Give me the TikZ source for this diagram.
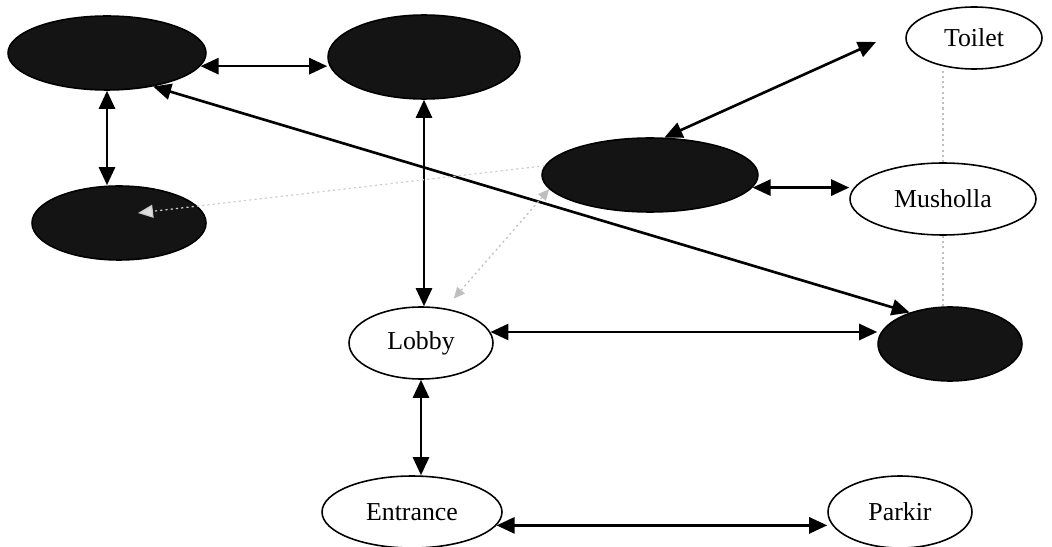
\documentclass[tikz,border=0pt]{standalone}
\usepackage{fontspec}
\setmainfont{Liberation Serif}
\usetikzlibrary{arrows.meta,shapes.geometric}
\begin{document}
\begin{tikzpicture}[x=0.02cm,y=-0.02cm,
  place/.style={ellipse, draw=black, line width=0.9pt, inner sep=0pt,
    font=\fontsize{14.7pt}{17pt}\selectfont},
  darkplace/.style={place, fill=black!92},
  lightplace/.style={place, fill=white},
  link/.style={line width=1.5pt, {Triangle[length=0.36cm,width=0.32cm]}-{Triangle[length=0.36cm,width=0.32cm]}},
  faint/.style={gray!50, line width=0.7pt, dash pattern=on 1.2pt off 1.8pt},
]
\useasboundingbox (0,0) rectangle (1052,547);

% rooms
\node[darkplace, minimum width=3.96cm, minimum height=1.48cm] (A) at (107,53) {};
\node[darkplace, minimum width=3.84cm, minimum height=1.68cm] (B) at (424,57) {};
\node[darkplace, minimum width=3.48cm, minimum height=1.48cm] (C) at (119,223) {};
\node[darkplace, minimum width=4.32cm, minimum height=1.48cm] (D) at (650,175) {};
\node[darkplace, minimum width=2.88cm, minimum height=1.48cm] (E) at (950,344) {};
\node[lightplace, minimum width=2.72cm, minimum height=1.24cm] (toilet) at (974,38) {Toilet};
\node[lightplace, minimum width=3.72cm, minimum height=1.44cm] (musholla) at (943,199) {Musholla};
\node[lightplace, minimum width=2.88cm, minimum height=1.44cm] (lobby) at (421,343) {Lobby};
\node[lightplace, minimum width=3.60cm, minimum height=1.44cm] (entrance) at (412,512) {Entrance};
\node[lightplace, minimum width=2.88cm, minimum height=1.44cm] (parkir) at (900,512) {Parkir};

% free ends
\coordinate (toiletend) at (876,42);
\coordinate (ctip) at (138,213);

% main connections
\draw[link] (A.-8) -- (A.-8 -| B.west);
\draw[link] (A.south) -- (A.south |- C.north);
\draw[link] (A.-36) -- (E.142);
\draw[link] (B.south) -- (B.south |- lobby.north);
\draw[link] (D.69) -- (toiletend);
\draw[link] (D.-7) -- (D.-7 -| musholla.west);
\draw[link] (lobby.9) -- (lobby.9 -| E.west);
\draw[link] (lobby.south) -- (lobby.south |- entrance.north);
\draw[link] (entrance.-9) -- (entrance.-9 -| parkir.west);

% faint connections
\draw[faint] (musholla.north) -- (musholla.north |- toilet.south);
\draw[faint] (musholla.south) -- (musholla.south |- E.north);
\draw[faint, gray!40, -{Triangle[length=0.3cm,width=0.26cm,fill=gray!25]}] (D.175) -- (ctip);
\draw[faint, {Triangle[length=0.22cm,width=0.2cm]}-{Triangle[length=0.22cm,width=0.2cm]}, shorten >=0.26cm] (D.188) -- (lobby.55);
\end{tikzpicture}
\end{document}
